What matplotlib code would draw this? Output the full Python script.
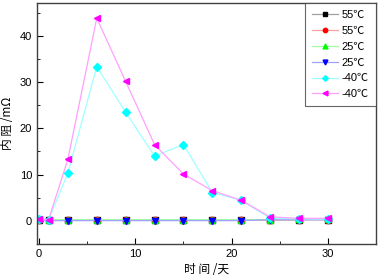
import matplotlib
matplotlib.use("Agg")
import matplotlib.pyplot as plt
from matplotlib.ticker import MultipleLocator

plt.rcParams['font.family'] = ['Liberation Sans', 'Noto Sans CJK SC', 'DejaVu Sans']

days = [0, 1, 3, 6, 9, 12, 15, 18, 21, 24, 27, 30]
s55a = [0.2, 0.1, 0.1, 0.1, 0.1, 0.1, 0.1, 0.1, 0.1, 0.1, 0.2, 0.2]
s55b = [0.2, 0.1, 0.1, 0.1, 0.1, 0.1, 0.1, 0.1, 0.1, 0.1, 0.2, 0.2]
s25a = [0.3, 0.2, 0.2, 0.2, 0.2, 0.2, 0.2, 0.2, 0.2, 0.2, 0.3, 0.3]
s25b = [0.1, 0.0, 0.0, 0.0, 0.0, 0.0, 0.0, 0.0, 0.0, 0.2, 0.2, 0.2]
sm40a = [0.3, 0.2, 10.3, 33.4, 23.5, 14.0, 16.5, 6.1, 4.4, 0.5, 0.4, 0.3]
sm40b = [0.3, 0.2, 13.3, 43.9, 30.2, 16.5, 10.1, 6.5, 4.4, 0.8, 0.5, 0.5]
labels = ['55℃', '55℃', '25℃', '25℃', '-40℃', '-40℃']

series = [s55a, s55b, s25a, s25b, sm40a, sm40b]
line_colors = ['#a0a0a0', '#ffa0a0', '#a0ffa0', '#a0a0ff', '#a0ffff', '#ffa0ff']
mk_colors = ['#000000', '#ff0000', '#00ff00', '#0000ff', '#00ffff', '#ff00ff']
markers = ['s', 'o', '^', 'v', 'D', '<']
msizes = [4, 4.5, 5, 5, 4, 5]

fig = plt.figure(figsize=(3.78, 2.79), dpi=100)
ax = fig.add_axes([0.098, 0.125, 0.897, 0.864])

for ys, lc, mc, m, ms, lab in zip(series, line_colors, mk_colors, markers, msizes, labels):
    ax.plot(days, ys, color=lc, lw=0.9, marker=m, markersize=ms,
            markerfacecolor=mc, markeredgecolor=mc, label=lab)

ax.set_xlim(-0.2, 35)
ax.set_ylim(-5.1, 47.2)
ax.xaxis.set_major_locator(MultipleLocator(10))
ax.xaxis.set_minor_locator(MultipleLocator(5))
ax.yaxis.set_major_locator(MultipleLocator(10))
ax.yaxis.set_minor_locator(MultipleLocator(5))
ax.tick_params(which='both', direction='in', top=False, right=False, labelsize=8)
ax.tick_params(which='major', length=4)
ax.tick_params(which='minor', length=2)
for sp in ax.spines.values():
    sp.set_color('#404040')
    sp.set_linewidth(1.0)

cjk = ['Noto Sans CJK SC', 'DejaVu Sans']
ax.set_xlabel('时 间 /天', fontsize=8.5, family=cjk, labelpad=3)
ax.set_ylabel('内 阻 /mΩ', fontsize=8.5, family=cjk, labelpad=4)

leg = ax.legend(loc='upper right', frameon=True, fancybox=False,
                edgecolor='#404040', handlelength=2.4, borderaxespad=0,
                labelspacing=0.52, markerscale=0.7, borderpad=0.65,
                handletextpad=0.3,
                prop={'family': ['Liberation Sans', 'Noto Sans CJK SC', 'DejaVu Sans'], 'size': 8})
leg.get_frame().set_linewidth(0.8)

fig.savefig('out.png', dpi=100)
